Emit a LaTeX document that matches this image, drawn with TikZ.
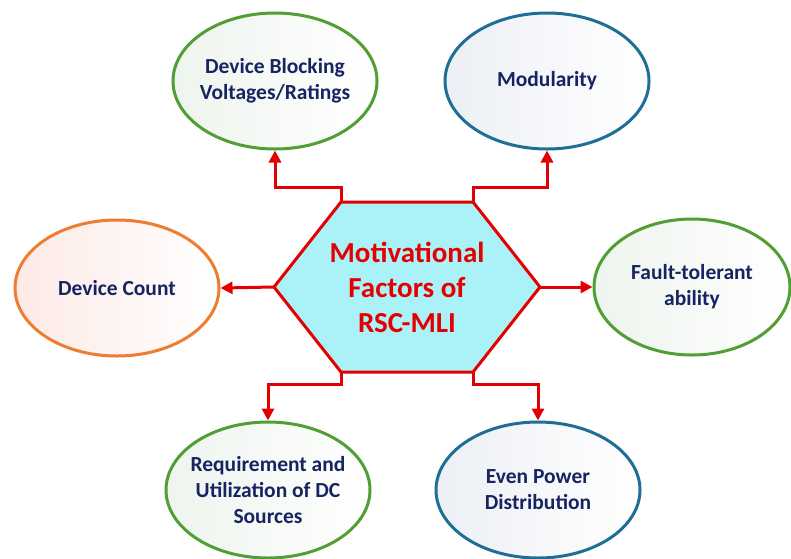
\documentclass[tikz,border=0pt]{standalone}
\usepackage{fontspec}
\setmainfont{Carlito}
\usetikzlibrary{arrows.meta,shapes.geometric}
\definecolor{cgreen}{RGB}{80,158,52}
\definecolor{cblue}{RGB}{30,110,150}
\definecolor{corange}{RGB}{237,125,49}
\definecolor{cred}{RGB}{228,0,0}
\definecolor{cnavy}{RGB}{22,36,98}
\definecolor{chex}{RGB}{170,242,248}
\definecolor{tgreen}{RGB}{238,244,238}
\definecolor{tblue}{RGB}{236,239,244}
\definecolor{torange}{RGB}{252,234,230}
\tikzset{
  oval/.style={ellipse, line width=3pt, minimum width=204pt, minimum height=136pt,
    inner sep=0pt, shading angle=135},
  ovalg/.style={oval, draw=cgreen, left color=tgreen, right color=white},
  ovalb/.style={oval, draw=cblue, left color=tblue, right color=white},
  ovalo/.style={oval, draw=corange, left color=torange, right color=white},
  txt/.style={font=\bfseries\fontsize{21.5}{26}\selectfont, text=cnavy, align=center, inner sep=0pt},
  htxt/.style={font=\bfseries\fontsize{29}{35}\selectfont, text=cred, align=center, inner sep=0pt},
  conn/.style={draw=cred, line width=3pt, -{Triangle[length=12pt,width=12pt]}},
}
\begin{document}
\begin{tikzpicture}[x=1pt,y=-1pt]
\useasboundingbox (0,0) rectangle (791,558);
% hexagon
\coordinate (hL) at (274,287);
\coordinate (hTL) at (341,202);
\coordinate (hTR) at (473,202);
\coordinate (hR) at (540,287);
\coordinate (hBR) at (473,372);
\coordinate (hBL) at (341,372);
\draw[cred, line width=3pt, fill=chex, line join=miter] (hL) -- (hTL) -- (hTR) -- (hR) -- (hBR) -- (hBL) -- cycle;
\node[htxt] (hex) at (407,287) {Motivational\\Factors of\\RSC-MLI};
% ellipses
\node[ovalg] (db) at (275,81) {};
\node[txt] (dbt) at (db) {Device Blocking\\Voltages/Ratings};
\node[ovalb] (mod) at (547,81) {};
\node[txt] (modt) at (mod) {Modularity};
\node[ovalo] (dc) at (117,288) {};
\node[txt] (dct) at (dc) {Device Count};
\node[ovalg, minimum width=196pt] (ft) at (692,287) {};
\node[txt] (ftt) at (ft) {Fault-tolerant\\ability};
\node[ovalg] (req) at (268,490) {};
\node[txt] (reqt) at (req) {Requirement and\\Utilization of DC\\Sources};
\node[ovalb] (ev) at (538,490) {};
\node[txt] (evt) at (ev) {Even Power\\Distribution};
% connectors
\draw[conn] (hTL) -- (341,187) -| (db.south);
\draw[conn] (hTR) -- (473,187) -| (mod.south);
\draw[conn] (hL) -- (dc.east);
\draw[conn] (hR) -- (ft.west);
\draw[conn] (hBL) -- (341,384) -| (req.north);
\draw[conn] (hBR) -- (473,384) -| (ev.north);
\end{tikzpicture}
\end{document}
